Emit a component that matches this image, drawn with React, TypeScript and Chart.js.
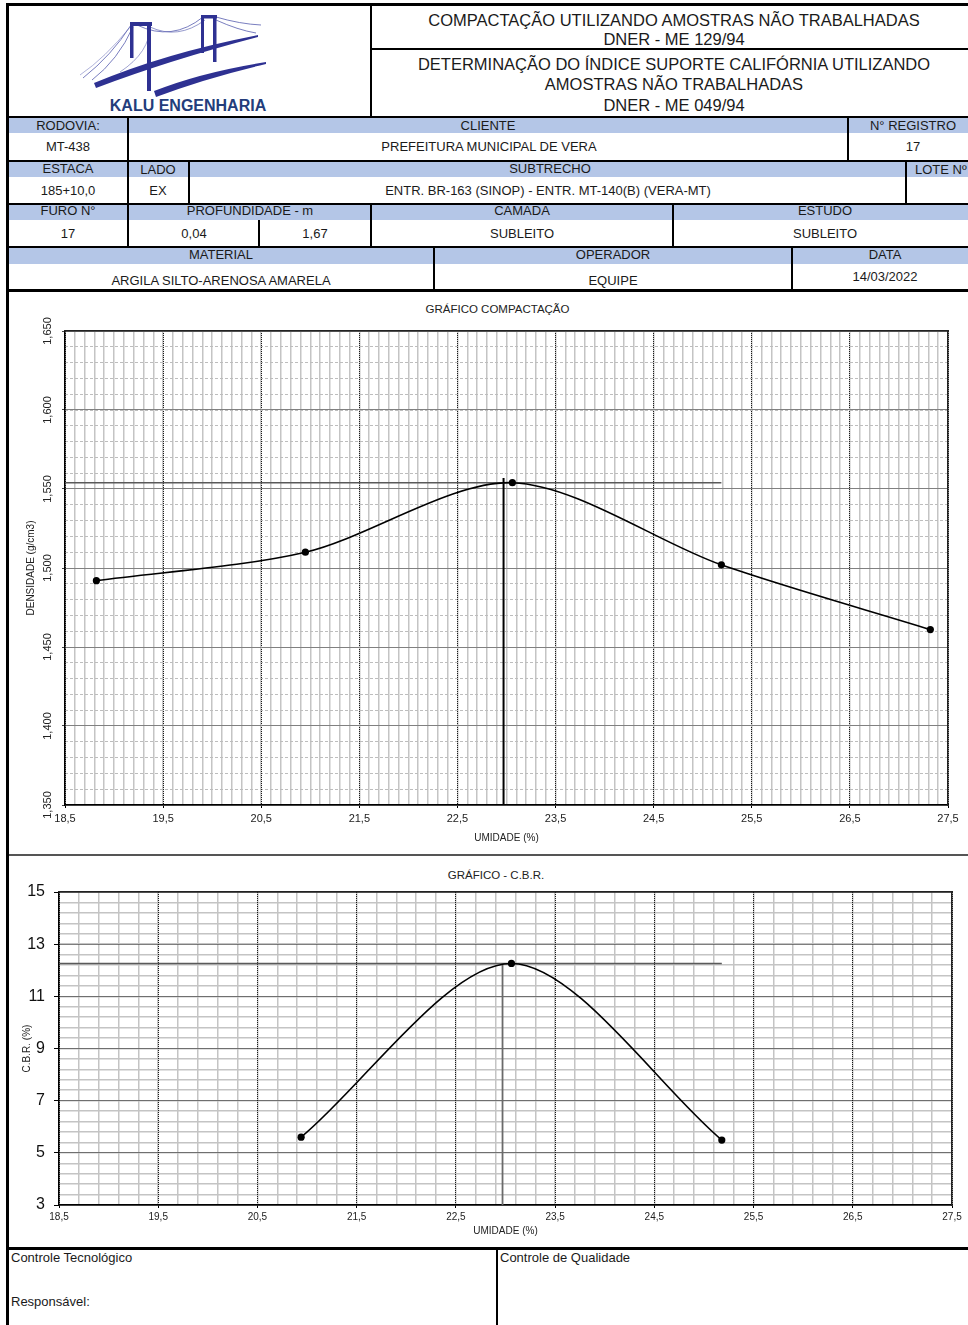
import React, { useEffect, useRef } from "react";
import { Chart, registerables } from "chart.js";

Chart.register(...registerables);

const FONT = "'Liberation Sans', Arial, Helvetica, sans-serif";
Chart.defaults.font.family = FONT;
Chart.defaults.color = "#222";

// ===== data =====
const X_MIN = 18.5;
const X_MAX = 27.5;

// Gráfico compactação
const densMoisture = [18.82, 20.95, 23.06, 25.19, 27.32];
const densValues = [1.492, 1.51, 1.554, 1.502, 1.461];
const densMaxX = [18.5, 25.19];
const densMaxY = [1.554, 1.554];
const densOptX = [22.97, 22.97];
const densOptY = [1.35, 1.557];
const DENS_MIN = 1.35;
const DENS_MAX = 1.65;

// Gráfico C.B.R.
const cbrMoisture = [20.94, 23.06, 25.18];
const cbrValues = [5.6, 12.26, 5.49];
const cbrMaxX = [18.5, 25.18];
const cbrMaxY = [12.26, 12.26];
const cbrOptX = [22.97, 22.97];
const cbrOptY = [3, 12.26];
const CBR_MIN = 3;
const CBR_MAX = 15;

const zip = (xs: number[], ys: number[]) => xs.map((x, i) => ({ x, y: ys[i] }));
const fmtX = (v: any) => Number(v).toFixed(1).replace(".", ",");
const fmtDens = (v: any) => Number(v).toFixed(3).replace(".", ",");
const fmtCbr = (v: any) => String(Math.round(Number(v)));

const edgeScale = (pos: "top" | "right", min: number, max: number, color: string) => ({
  type: "linear",
  position: pos,
  min,
  max,
  ticks: { display: false },
  grid: { display: false, drawTicks: false },
  border: { display: true, color, width: 1.5 },
  afterFit: (s: any) => {
    if (pos === "top") s.height = 0;
    else s.width = 0;
  },
});

function densityConfig(): any {
  return {
    type: "line",
    data: {
      datasets: [
        {
          data: zip(densMoisture, densValues),
          xAxisID: "x",
          yAxisID: "y",
          borderColor: "#000",
          borderWidth: 1.6,
          tension: 0.3,
          pointRadius: 3.6,
          pointBackgroundColor: "#000",
          pointBorderColor: "#000",
          pointBorderWidth: 0,
          order: 0,
        },
        {
          data: zip(densMaxX, densMaxY),
          xAxisID: "x",
          yAxisID: "y",
          borderColor: "#5a5a5a",
          borderWidth: 1.6,
          pointRadius: 0,
          tension: 0,
          order: 1,
        },
        {
          data: zip(densOptX, densOptY),
          xAxisID: "x",
          yAxisID: "y",
          borderColor: "#000",
          borderWidth: 2,
          pointRadius: 0,
          tension: 0,
          order: 1,
        },
      ],
    },
    options: {
      responsive: false,
      maintainAspectRatio: false,
      animation: false,
      devicePixelRatio: 1,
      events: [],
      layout: { padding: { top: 38, right: 20, left: 0, bottom: 0 } },
      plugins: { legend: { display: false }, tooltip: { enabled: false }, title: { display: false } },
      scales: {
        xMinor: {
          type: "linear",
          position: "bottom",
          min: X_MIN,
          max: X_MAX,
          ticks: { display: false, stepSize: 0.1 },
          grid: { color: "#c4c4c4", lineWidth: 1.5, drawTicks: false, z: -3 },
          border: { display: false },
          afterFit: (s: any) => {
            s.height = 0;
          },
        },
        yMinor: {
          type: "linear",
          position: "left",
          min: DENS_MIN,
          max: DENS_MAX,
          ticks: { display: false, stepSize: 0.01 },
          grid: { color: "#bdbdbd", lineWidth: 1, drawTicks: false, z: -3 },
          border: { display: false, dash: [3, 2] },
          afterFit: (s: any) => {
            s.width = 0;
          },
        },
        x: {
          type: "linear",
          position: "bottom",
          min: X_MIN,
          max: X_MAX,
          ticks: {
            stepSize: 1,
            autoSkip: false,
            minRotation: 0,
            maxRotation: 0,
            padding: 4,
            color: "#222",
            font: { size: 11, family: FONT },
            callback: fmtX,
          },
          grid: { color: "#1a1a1a", lineWidth: 1, tickLength: 3, tickColor: "#000", z: -2 },
          border: { display: true, color: "#000", width: 1.5, dash: [1, 1] },
          title: {
            display: true,
            text: "UMIDADE (%)",
            color: "#222",
            font: { size: 10, family: FONT },
            padding: { top: 0, bottom: 9 },
          },
          afterFit: (s: any) => {
            s.height = 48;
          },
        },
        y: {
          type: "linear",
          position: "left",
          min: DENS_MIN,
          max: DENS_MAX,
          ticks: {
            stepSize: 0.05,
            autoSkip: false,
            minRotation: 90,
            maxRotation: 90,
            crossAlign: "center",
            padding: 0,
            color: "#222",
            font: { size: 11, family: FONT },
            callback: fmtDens,
          },
          grid: { color: "#808080", lineWidth: 1, tickLength: 3, tickColor: "#444", z: -2 },
          border: { display: true, color: "#000", width: 1.5 },
          title: {
            display: true,
            text: "DENSIDADE (g/cm3)",
            color: "#222",
            font: { size: 10, family: FONT },
            padding: { top: 15, bottom: 0 },
          },
          afterFit: (s: any) => {
            s.width = 55;
          },
        },
        xTop: edgeScale("top", X_MIN, X_MAX, "#222"),
        yRight: edgeScale("right", DENS_MIN, DENS_MAX, "#222"),
      },
    },
  };
}

function cbrConfig(): any {
  return {
    type: "line",
    data: {
      datasets: [
        {
          data: zip(cbrMoisture, cbrValues),
          xAxisID: "x",
          yAxisID: "y",
          borderColor: "#000",
          borderWidth: 1.6,
          tension: 0.3,
          pointRadius: 3.6,
          pointBackgroundColor: "#000",
          pointBorderColor: "#000",
          pointBorderWidth: 0,
          order: 0,
        },
        {
          data: zip(cbrMaxX, cbrMaxY),
          xAxisID: "x",
          yAxisID: "y",
          borderColor: "#5a5a5a",
          borderWidth: 1.6,
          pointRadius: 0,
          tension: 0,
          order: 1,
        },
        {
          data: zip(cbrOptX, cbrOptY),
          xAxisID: "x",
          yAxisID: "y",
          borderColor: "#6a6a6a",
          borderWidth: 1.8,
          pointRadius: 0,
          tension: 0,
          order: 1,
        },
      ],
    },
    options: {
      responsive: false,
      maintainAspectRatio: false,
      animation: false,
      devicePixelRatio: 1,
      events: [],
      layout: { padding: { top: 35, right: 16, left: 0, bottom: 0 } },
      plugins: { legend: { display: false }, tooltip: { enabled: false }, title: { display: false } },
      scales: {
        xMinor: {
          type: "linear",
          position: "bottom",
          min: X_MIN,
          max: X_MAX,
          ticks: { display: false, stepSize: 0.2 },
          grid: { color: "#c4c4c4", lineWidth: 1.5, drawTicks: false, z: -3 },
          border: { display: false },
          afterFit: (s: any) => {
            s.height = 0;
          },
        },
        yMinor: {
          type: "linear",
          position: "left",
          min: CBR_MIN,
          max: CBR_MAX,
          ticks: { display: false, stepSize: 0.4 },
          grid: { color: "#c4c4c4", lineWidth: 1.5, drawTicks: false, z: -3 },
          border: { display: false },
          afterFit: (s: any) => {
            s.width = 0;
          },
        },
        x: {
          type: "linear",
          position: "bottom",
          min: X_MIN,
          max: X_MAX,
          ticks: {
            stepSize: 1,
            autoSkip: false,
            minRotation: 0,
            maxRotation: 0,
            padding: 3,
            color: "#222",
            font: { size: 10, family: FONT },
            callback: fmtX,
          },
          grid: { color: "#1a1a1a", lineWidth: 1, tickLength: 3, tickColor: "#000", z: -2 },
          border: { display: true, color: "#000", width: 1.5, dash: [1, 1] },
          title: {
            display: true,
            text: "UMIDADE (%)",
            color: "#222",
            font: { size: 10, family: FONT },
            padding: { top: 0, bottom: 10 },
          },
          afterFit: (s: any) => {
            s.height = 42;
          },
        },
        y: {
          type: "linear",
          position: "left",
          min: CBR_MIN,
          max: CBR_MAX,
          ticks: {
            stepSize: 2,
            autoSkip: false,
            padding: 9,
            color: "#111",
            font: { size: 16, family: FONT },
            callback: fmtCbr,
          },
          grid: { color: "#1a1a1a", lineWidth: 1, tickLength: 5, tickColor: "#000", z: -2 },
          border: { display: true, color: "#000", width: 1.5, dash: [1, 1] },
          title: {
            display: true,
            text: "C.B.R. (%)",
            color: "#222",
            font: { size: 10, family: FONT },
            padding: { top: 11, bottom: 0 },
          },
          afterFit: (s: any) => {
            s.width = 49;
          },
        },
        xTop: edgeScale("top", X_MIN, X_MAX, "#222"),
        yRight: edgeScale("right", CBR_MIN, CBR_MAX, "#222"),
      },
    },
  };
}

function ChartBox(props: { make: () => any; left: number; top: number; width: number; height: number }) {
  const ref = useRef<HTMLCanvasElement>(null);
  useEffect(() => {
    const chart = new Chart(ref.current as HTMLCanvasElement, props.make());
    return () => chart.destroy();
  }, []);
  return (
    <canvas
      ref={ref}
      width={props.width}
      height={props.height}
      style={{ position: "absolute", left: props.left, top: props.top, width: props.width, height: props.height }}
    />
  );
}

function Ln(p: { l: number; t: number; w: number; h: number; c?: string }) {
  return (
    <div style={{ position: "absolute", left: p.l, top: p.t, width: p.w, height: p.h, background: p.c || "#000" }} />
  );
}

function Band(p: { t: number; h: number }) {
  return <div style={{ position: "absolute", left: 9, top: p.t, width: 959, height: p.h, background: "#B4C6E7" }} />;
}

function Txt(p: { cx?: number; lx?: number; cy: number; text: string; size?: number; color?: string; bold?: boolean }) {
  const size = p.size || 13;
  const h = Math.round(size * 1.25);
  const style: any = {
    position: "absolute",
    top: p.cy - h / 2,
    height: h,
    lineHeight: h + "px",
    fontSize: size,
    whiteSpace: "nowrap",
    color: p.color || "#1a1a1a",
    fontWeight: p.bold ? "bold" : "normal",
  };
  if (p.lx !== undefined) {
    style.left = p.lx;
  } else {
    style.left = (p.cx as number) - 300;
    style.width = 600;
    style.textAlign = "center";
  }
  return <div style={style}>{p.text}</div>;
}

function Logo() {
  const blue = "#2e3192";
  return (
    <svg width={371} height={117} style={{ position: "absolute", left: 0, top: 0 }}>
      <g stroke="#6a6fb8" strokeWidth={0.9} fill="none">
        <path d="M131,25 Q112,55 83,78" />
        <path d="M133,27 Q118,60 92,80" />
        <path d="M131,26 Q105,58 80,75" opacity={0.6} />
        <path d="M150,26 Q150,52 120,72" opacity={0.7} />
        <path d="M137,25 Q172,42 203,17" />
        <path d="M150,27 Q178,40 205,20" opacity={0.8} />
        <path d="M216,17 Q240,24 261,25" />
        <path d="M216,20 Q238,30 256,33" />
      </g>
      <g fill={blue}>
        <rect x={130} y={22} width={22} height={4} />
        <rect x={130} y={22} width={3.5} height={36} />
        <rect x={147} y={22} width={4} height={69} />
        <rect x={201} y={15} width={16} height={3.5} />
        <rect x={201} y={15} width={3} height={38} />
        <rect x={213} y={15} width={3.5} height={47} />
      </g>
      <path d="M94,83 Q165,53 258,35 L258,37 Q170,60 96,88 Z" fill={blue} />
      <path d="M154,91 Q202,72 266,62 L266,64 Q206,78 156,97 Z" fill={blue} />
    </svg>
  );
}

export default function App() {
  return (
    <div
      style={{
        position: "absolute",
        left: 0,
        top: 0,
        width: 968,
        height: 1325,
        overflow: "hidden",
        background: "#fff",
        fontFamily: FONT,
        color: "#1a1a1a",
      }}
    >
      {/* blue header bands */}
      <Band t={118} h={15} />
      <Band t={162} h={15} />
      <Band t={205} h={15} />
      <Band t={248} h={16} />

      <Logo />
      <Txt cx={188} cy={106} text="KALU ENGENHARIA" size={16} bold color="#233d7b" />

      <Txt cx={674} cy={20} text="COMPACTAÇÃO UTILIZANDO AMOSTRAS NÃO TRABALHADAS" size={16.5} />
      <Txt cx={674} cy={39.5} text="DNER - ME 129/94" size={16.5} />
      <Txt cx={674} cy={64} text="DETERMINAÇÃO DO ÍNDICE SUPORTE CALIFÓRNIA UTILIZANDO" size={16.5} />
      <Txt cx={674} cy={84.5} text="AMOSTRAS NÃO TRABALHADAS" size={16.5} />
      <Txt cx={674} cy={105.5} text="DNER - ME 049/94" size={16.5} />

      {/* row 1 */}
      <Txt cx={68} cy={125.5} text="RODOVIA:" />
      <Txt cx={488} cy={125.5} text="CLIENTE" />
      <Txt cx={913} cy={125.5} text="N° REGISTRO" />
      <Txt cx={68} cy={147} text="MT-438" />
      <Txt cx={489} cy={147} text="PREFEITURA MUNICIPAL DE VERA" />
      <Txt cx={913} cy={147} text="17" />
      {/* row 2 */}
      <Txt cx={68} cy={169} text="ESTACA" />
      <Txt cx={158} cy={169.5} text="LADO" />
      <Txt cx={550} cy={169} text="SUBTRECHO" />
      <Txt lx={915} cy={169.5} text="LOTE Nº" />
      <Txt cx={68} cy={191} text="185+10,0" />
      <Txt cx={158} cy={191} text="EX" />
      <Txt cx={548} cy={190.5} text="ENTR. BR-163 (SINOP) - ENTR. MT-140(B) (VERA-MT)" />
      {/* row 3 */}
      <Txt cx={68} cy={210.5} text="FURO N°" />
      <Txt cx={250} cy={210.5} text="PROFUNDIDADE - m" />
      <Txt cx={522} cy={210.5} text="CAMADA" />
      <Txt cx={825} cy={210.5} text="ESTUDO" />
      <Txt cx={68} cy={233.5} text="17" />
      <Txt cx={194} cy={233.5} text="0,04" />
      <Txt cx={315} cy={233.5} text="1,67" />
      <Txt cx={522} cy={233.5} text="SUBLEITO" />
      <Txt cx={825} cy={233.5} text="SUBLEITO" />
      {/* row 4 */}
      <Txt cx={221} cy={255} text="MATERIAL" />
      <Txt cx={613} cy={255} text="OPERADOR" />
      <Txt cx={885} cy={255} text="DATA" />
      <Txt cx={221} cy={280.5} text="ARGILA SILTO-ARENOSA AMARELA" />
      <Txt cx={613} cy={281} text="EQUIPE" />
      <Txt cx={885} cy={276.5} text="14/03/2022" />

      {/* table lines */}
      <Ln l={6} t={3} w={962} h={3} />
      <Ln l={6} t={3} w={3} h={1322} />
      <Ln l={370} t={3} w={2} h={114} />
      <Ln l={371} t={48} w={597} h={2} />
      <Ln l={6} t={116} w={962} h={2} />
      <Ln l={6} t={160} w={962} h={2} />
      <Ln l={6} t={203} w={962} h={2} />
      <Ln l={6} t={246} w={962} h={2} />
      <Ln l={6} t={289} w={962} h={3} />
      <Ln l={127} t={117} w={2} h={44} />
      <Ln l={847} t={117} w={2} h={44} />
      <Ln l={127} t={161} w={2} h={43} />
      <Ln l={188} t={161} w={2} h={43} />
      <Ln l={905} t={161} w={2} h={43} />
      <Ln l={127} t={204} w={2} h={43} />
      <Ln l={370} t={204} w={2} h={43} />
      <Ln l={672} t={204} w={2} h={43} />
      <Ln l={258} t={220} w={2} h={27} />
      <Ln l={433} t={247} w={2} h={43} />
      <Ln l={791} t={247} w={2} h={43} />

      {/* charts */}
      <Txt cx={497.5} cy={309} text="GRÁFICO COMPACTAÇÃO" size={11.5} color="#222" />
      <ChartBox make={densityConfig} left={10} top={293} width={958} height={560} />
      <Ln l={9} t={854} w={959} h={2} c="#555" />
      <Txt cx={496} cy={875} text="GRÁFICO - C.B.R." size={11.5} color="#222" />
      <ChartBox make={cbrConfig} left={10} top={857} width={958} height={390} />

      {/* footer */}
      <Ln l={6} t={1247} w={962} h={3} />
      <Ln l={496} t={1248} w={2} h={77} />
      <Txt lx={11} cy={1258} text="Controle Tecnológico" />
      <Txt lx={11} cy={1302} text="Responsável:" />
      <Txt lx={500} cy={1258} text="Controle de Qualidade" />
    </div>
  );
}
